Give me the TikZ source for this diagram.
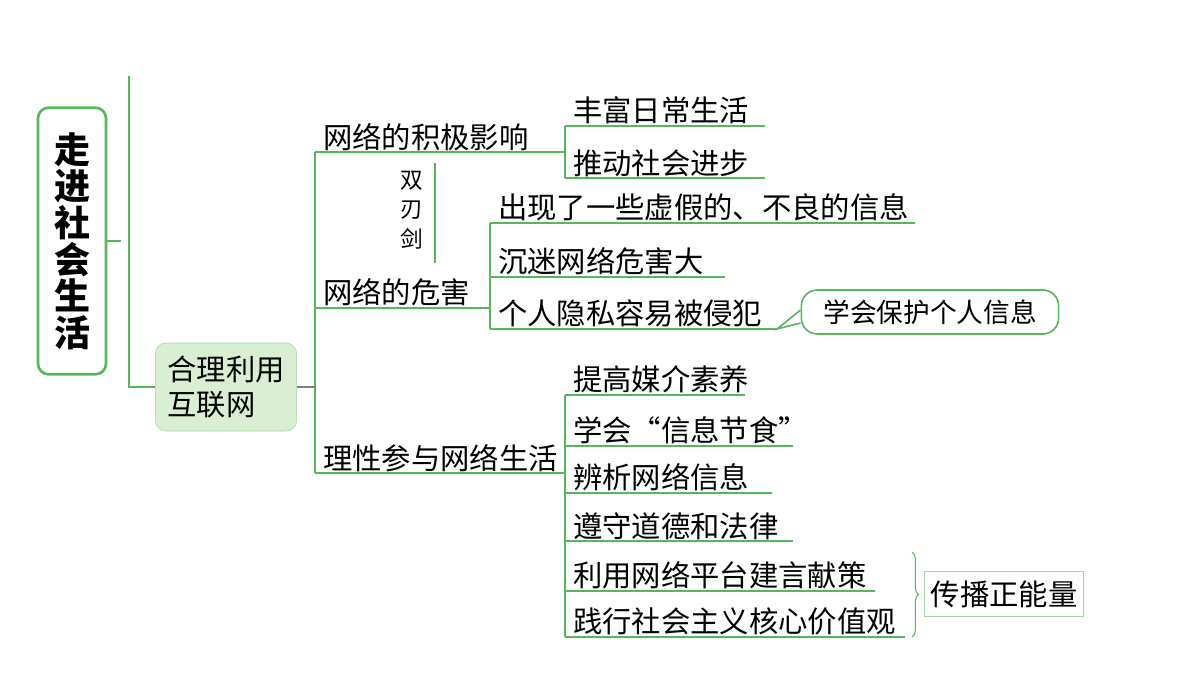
\documentclass[tikz,border=0pt]{standalone}
\usepackage{fontspec}
\newfontfamily\cjk{Noto Sans CJK SC}
\usetikzlibrary{positioning,calc,decorations.pathreplacing}
\definecolor{mapgreen}{RGB}{88,182,92}
\definecolor{boxfill}{RGB}{218,238,212}
\definecolor{palegreen}{RGB}{160,218,160}
\tikzset{
  leaf/.style={anchor=south west,inner xsep=6pt,inner ysep=1pt,font=\cjk\fontsize{22}{26}\selectfont},
  uline/.style={draw=mapgreen,line width=1.2pt},
}
\begin{document}
\begin{tikzpicture}[x=0.75pt,y=-0.75pt]
  \useasboundingbox (0,0) rectangle (1200,675);
  % root and second level
  \node[draw=mapgreen,line width=2pt,rounded corners=8pt,minimum width=51pt,minimum height=200pt,
        inner xsep=2pt,align=center,font=\cjk\bfseries\fontsize{27}{27.5}\selectfont] (root) at (72,241)
        {走\\进\\社\\会\\生\\活};
  \node[draw=palegreen,fill=boxfill,rounded corners=8pt,minimum width=106pt,minimum height=66pt,
        align=left,font=\cjk\fontsize{22}{26}\selectfont] (hl) at (226,387) {合理利用\\互联网};
  \coordinate (top) at (129,76);
  \draw[uline] (root.east) -- ++(14,0);
  \draw[uline] (top) |- (hl.west);

  % positive side
  \node[leaf] (p1) at (315,152) {网络的积极影响};
  \draw[uline] (p1.south west) -- ++(250,0);
  \node[leaf] (a1) at (565,126) {丰富日常生活};
  \draw[uline] (a1.south west) -- ++(200,0);
  \node[leaf] (a2) at (565,178) {推动社会进步};
  \draw[uline] (a2.south west) -- ++(200,0);
  \draw[uline] (a1.south west) -- (a2.south west);

  % double edge
  \node[align=center,font=\cjk\fontsize{17}{22}\selectfont] (sword) at (412,210) {双\\刃\\剑};
  \draw[uline] (435,163) coordinate (s1) -- (435,263) coordinate (s2);

  % harm
  \node[leaf] (p2) at (315,308) {网络的危害};
  \draw[uline] (p2.south west) -- ++(175,0);
  \node[leaf] (b1) at (490,223) {出现了一些虚假的、不良的信息};
  \draw[uline] (b1.south west) -- ++(425,0);
  \node[leaf] (b2) at (490,277) {沉迷网络危害大};
  \draw[uline] (b2.south west) -- ++(235,0);
  \node[leaf] (b3) at (490,329) {个人隐私容易被侵犯};
  \draw[uline] (b3.south west) -- ++(287,0) coordinate (b3e);
  \draw[uline] (b1.south west) -- (b3.south west);
  \node[draw=mapgreen,line width=1.2pt,rounded corners=12pt,minimum width=193pt,minimum height=33pt,
        font=\cjk\fontsize{20}{24}\selectfont] (tip) at (930,312) {学会保护个人信息};
  \draw[uline] ($(tip.west)+(0,-2)$) -- (b3e) -- ($(tip.west)+(0,11)$);

  % rational use
  \node[leaf] (p3) at (315,473) {理性参与网络生活};
  \draw[uline] (p3.south west) -- ++(250,0);
  \node[leaf] (c1) at (565,395) {提高媒介素养};
  \draw[uline] (c1.south west) -- ++(180,0);
  \node[leaf] (c2) at (565,446) {学会“信息节食”};
  \draw[uline] (c2.south west) -- ++(228,0);
  \node[leaf] (c3) at (565,493) {辨析网络信息};
  \draw[uline] (c3.south west) -- ++(207,0);
  \node[leaf] (c4) at (565,541) {遵守道德和法律};
  \draw[uline] (c4.south west) -- ++(228,0);
  \node[leaf] (c5) at (565,591) {利用网络平台建言献策};
  \draw[uline] (c5.south west) -- ++(310,0);
  \node[leaf] (c6) at (565,637) {践行社会主义核心价值观};
  \draw[uline] (c6.south west) -- ++(340,0);
  \draw[uline] (c1.south west) -- (c6.south west);
  \draw[draw=mapgreen,line width=0.8pt,decorate,decoration={brace,amplitude=5pt}]
    (912,552) coordinate (br1) -- (912,637) coordinate (br2);
  \node[draw=palegreen,line width=0.8pt,minimum width=119pt,minimum height=34pt,
        font=\cjk\fontsize{22}{26}\selectfont] (energy) at (1004,594) {传播正能量};

  % trunk
  \draw[uline] (p1.south west) -- (p3.south west);
  \draw[gray,line width=0.8pt] (hl.east) -- (hl.east -| p1.south west);
\end{tikzpicture}
\end{document}
